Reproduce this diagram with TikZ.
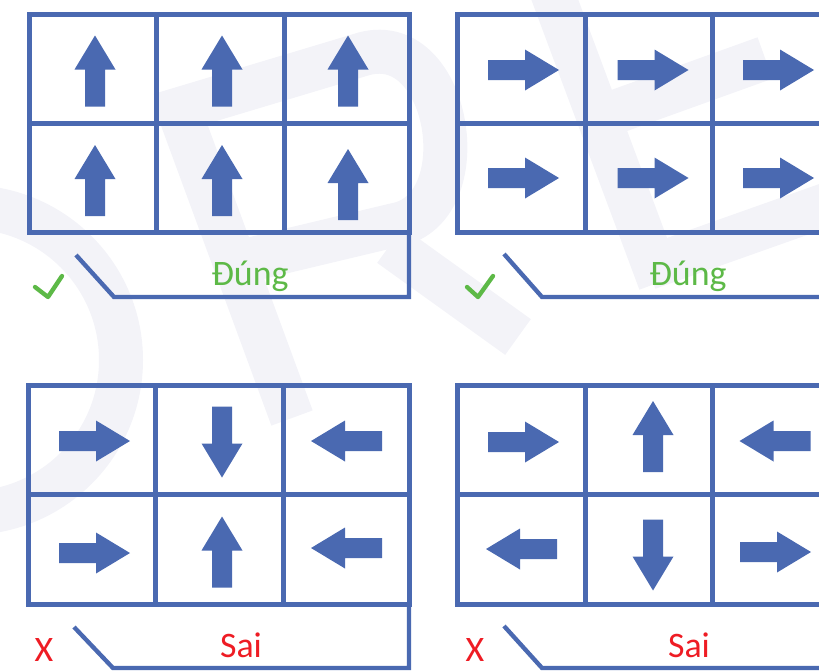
\documentclass[tikz,border=0pt]{standalone}
\usepackage{fontspec}
\setmainfont{Carlito}
\definecolor{gridblue}{HTML}{4A69B1}
\definecolor{okgreen}{HTML}{5DB947}
\definecolor{badred}{HTML}{EE1C24}
\definecolor{wmark}{HTML}{F3F3F8}
\tikzset{
  gridline/.style={draw=gridblue, line width=0.15cm, line join=miter},
  bracket/.style={draw=gridblue, line width=0.13cm, line join=miter},
  tick/.style={draw=okgreen, line width=0.13cm, line cap=round, line join=round},
  oklabel/.style={text=okgreen, font=\fontsize{30.6}{34}\selectfont, anchor=base, inner sep=0pt},
  badlabel/.style={text=badred, font=\fontsize{30.6}{34}\selectfont, anchor=base, inner sep=0pt},
  wmstroke/.style={draw=wmark, line width=1.32cm}
}
% block arrow centred at (#1,#2), pointing in direction #3 (0 right, 90 up, 180 left, -90 down)
\newcommand\blockarrow[3]{%
  \fill[gridblue, shift={(#1,#2)}, rotate=#3]
    (-35.5,-10) -- (1.5,-10) -- (1.5,-20.5) -- (35.5,0) -- (1.5,20.5) -- (1.5,10) -- (-35.5,10) -- cycle;}
\begin{document}
\begin{tikzpicture}[x=0.03cm, y=-0.03cm]
\useasboundingbox (0,0) rectangle (819,670);
\clip (0,0) rectangle (819,670);

% faint background lettering
\begin{scope}[wmstroke]
  \draw (-32,360) circle [radius=153];
  \draw (175,100) -- (292,418);
  \draw (160,115) -- (360,55) .. controls (450,25) and (480,210) .. (395,225) -- (240,262);
  \draw (390,245) -- (518,337);
  \draw (540,-40) -- (660,282);
  \draw (615,112) -- (765,58);
  \draw (648,268) -- (840,200);
\end{scope}

% ---------- top left: all up ----------
\draw[gridline] (29.5,14.5) rectangle (409,232);
\draw[gridline] (156,14.5) -- (156,232) (284,14.5) -- (284,232) (29.5,123) -- (409,123);
\coordinate (tlA) at (76,255);
\coordinate (tlB) at (114,297);
\draw[bracket] (tlA) -- (tlB) -- (409,297) -- (409,232);
\blockarrow{95}{71}{90}
\blockarrow{222}{71}{90}
\blockarrow{348}{71}{90}
\blockarrow{95}{180.5}{90}
\blockarrow{222}{180.5}{90}
\blockarrow{348}{184.5}{90}
\draw[tick] (35,287) -- (48,297) -- (62,276);
\node[oklabel] (tlLabel) at (250,285) {Đúng};

% ---------- top right: all right ----------
\draw[gridline] (457.5,14.5) rectangle (840,232);
\draw[gridline] (585,14.5) -- (585,232) (712.5,14.5) -- (712.5,232) (457.5,123) -- (840,123);
\coordinate (trA) at (504,254);
\coordinate (trB) at (542,297);
\draw[bracket] (trA) -- (trB) -- (840,297);
\blockarrow{523.5}{70}{0}
\blockarrow{653}{70}{0}
\blockarrow{778.5}{70}{0}
\blockarrow{523.5}{178}{0}
\blockarrow{653}{178}{0}
\blockarrow{778.5}{178}{0}
\draw[tick] (467,287) -- (478,297) -- (493,276);
\node[oklabel] (trLabel) at (688,285) {Đúng};

% ---------- bottom left: mixed ----------
\draw[gridline] (28,385) rectangle (409,604);
\draw[gridline] (155,385) -- (155,604) (283,385) -- (283,604) (28,494) -- (409,494);
\coordinate (blA) at (74,627);
\coordinate (blB) at (113,668);
\draw[bracket] (blA) -- (blB) -- (409,668) -- (409,604);
\blockarrow{94.5}{441}{0}
\blockarrow{222}{442}{-90}
\blockarrow{346.5}{441}{180}
\blockarrow{94.5}{553}{0}
\blockarrow{222}{552}{90}
\blockarrow{346.5}{548}{180}
\node[badlabel] (blMark) at (44,661) {X};
\node[badlabel] (blLabel) at (241,657) {Sai};

% ---------- bottom right: mixed ----------
\draw[gridline] (457.5,385) rectangle (840,604);
\draw[gridline] (585,385) -- (585,604) (712.5,385) -- (712.5,604) (457.5,494) -- (840,494);
\coordinate (brA) at (504,626);
\coordinate (brB) at (542,668);
\draw[bracket] (brA) -- (brB) -- (840,668);
\blockarrow{523.5}{442}{0}
\blockarrow{653}{436.5}{90}
\blockarrow{775}{441}{180}
\blockarrow{521.5}{549}{180}
\blockarrow{653}{555}{-90}
\blockarrow{775.5}{552}{0}
\node[badlabel] (brMark) at (475,661) {X};
\node[badlabel] (brLabel) at (689,657) {Sai};
\end{tikzpicture}
\end{document}
